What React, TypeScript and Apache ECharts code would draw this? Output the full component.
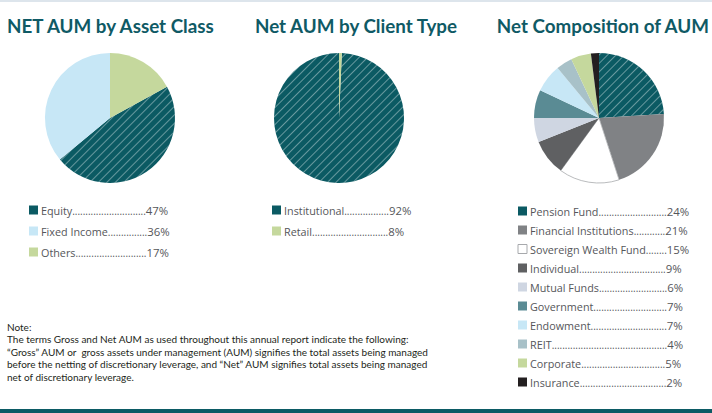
import React, { useEffect, useRef } from 'react';
import * as echarts from 'echarts';

const titles = ['NET AUM by Asset Class', 'Net AUM by Client Type', 'Net Composition of AUM'];

const assetNames = ['Equity', 'Fixed Income', 'Others'];
const assetValues = [47, 36, 17];
const assetLabels = ['47%', '36%', '17%'];

const clientNames = ['Institutional', 'Retail'];
const clientSliceValues = [99.3, 0.7];
const clientLabels = ['92%', '8%'];

const compNames = [
  'Pension Fund', 'Financial Institutions', 'Sovereign Wealth Fund', 'Individual', 'Mutual Funds',
  'Government', 'Endowment', 'REIT', 'Corporate', 'Insurance',
];
const compValues = [24, 21, 15, 9, 6, 7, 7, 4, 5, 2];
const compLabels = ['24%', '21%', '15%', '9%', '6%', '7%', '7%', '4%', '5%', '2%'];

const noteLines = [
  'Note:',
  'The terms Gross and Net AUM as used throughout this annual report indicate the following:',
  '\u201CGross\u201D AUM or  gross assets under management (AUM) signifies the total assets being managed',
  'before the netting of discretionary leverage, and \u201CNet\u201D AUM signifies total assets being managed',
  'net of discretionary leverage.',
];

const TEAL = '#0b5a63';
const hatch = {
  symbol: 'rect',
  symbolSize: 1,
  dashArrayX: [1, 0],
  dashArrayY: [1, 5],
  rotation: -Math.PI / 4,
  color: 'rgba(255,255,255,0.38)',
};

const assetColors = [TEAL, '#c7e7f6', '#c5d89d'];
const clientColors = [TEAL, '#c5d89d'];
const compColors = [TEAL, '#808285', '#ffffff', '#5f6062', '#cfd6e2', '#5a8b94', '#c7e7f6', '#a8c1c8', '#c5d89d', '#231f20'];

const LEGEND_FONT = '10.8px "Open Sans"';
const VALUE_FONT = '11.4px "Open Sans"';
const DOT_FONT = '10px "Open Sans"';
const TITLE_FONT = 'bold 18.8px Lato';
const NOTE_FONT = '10px Lato';

function measure(text: string, font: string) {
  const c = document.createElement('canvas').getContext('2d')!;
  c.font = font;
  return c.measureText(text).width;
}

function buildLegend(names: string[], labels: string[], colors: string[], iconX: number, textX: number, dotEnd: number, y0: number, step: number) {
  const els: any[] = [];
  const dotW = measure('.', DOT_FONT);
  names.forEach((n, i) => {
    const y = y0 + i * step;
    const white = colors[i].toLowerCase() === '#ffffff';
    els.push({
      type: 'rect',
      shape: { x: iconX, y: y - 4.5, width: 9, height: 9 },
      style: { fill: colors[i], stroke: white ? '#a7a9ac' : null, lineWidth: white ? 1 : 0 },
    });
    const nameW = measure(n, LEGEND_FONT);
    const count = Math.max(0, Math.round((dotEnd - textX - nameW) / dotW));
    els.push({
      type: 'text',
      x: textX,
      y,
      style: { text: n, font: LEGEND_FONT, fill: '#55565a', align: 'left', verticalAlign: 'middle' },
    });
    els.push({
      type: 'text',
      x: textX + nameW,
      y: y + 0.5,
      style: { text: '.'.repeat(count), font: DOT_FONT, fill: '#55565a', align: 'left', verticalAlign: 'middle' },
    });
    els.push({
      type: 'text',
      x: textX + nameW + count * dotW,
      y,
      style: { text: labels[i], font: VALUE_FONT, fill: '#55565a', align: 'left', verticalAlign: 'middle' },
    });
  });
  return els;
}

export default function App() {
  const ref = useRef<HTMLDivElement>(null);
  useEffect(() => {
    document.body.style.margin = '0';
    const chart = echarts.init(ref.current!, null, { renderer: 'svg' });
    const total = (a: number[]) => a.reduce((s, v) => s + v, 0);
    const mk = (names: string[], vals: number[], colors: string[]) =>
      names.map((n, i) => ({
        name: n,
        value: vals[i],
        itemStyle: {
          color: colors[i],
          decal: colors[i] === TEAL ? hatch : 'none',
          borderColor: colors[i] === '#ffffff' ? '#a7a9ac' : undefined,
          borderWidth: colors[i] === '#ffffff' ? 0.8 : 0,
        },
      }));
    const pieBase = {
      type: 'pie',
      radius: 65,
      label: { show: false },
      labelLine: { show: false },
      silent: true,
      clockwise: true,
    };
    const graphics: any[] = [
      { type: 'rect', shape: { x: 0, y: 0, width: 712, height: 2 }, style: { fill: '#dde5ec' } },
      { type: 'rect', shape: { x: 0, y: 409, width: 712, height: 4 }, style: { fill: '#0c5b65' } },
      { type: 'text', x: 7, y: 25, style: { text: titles[0], font: TITLE_FONT, fill: '#0f5a65', align: 'left', verticalAlign: 'middle' } },
      { type: 'text', x: 356, y: 25, style: { text: titles[1], font: TITLE_FONT, fill: '#0f5a65', align: 'center', verticalAlign: 'middle' } },
      { type: 'text', x: 709, y: 25, style: { text: titles[2], font: TITLE_FONT, fill: '#0f5a65', align: 'right', verticalAlign: 'middle' } },
      ...buildLegend(assetNames, assetLabels, assetColors, 29, 41, 146, 210, 21),
      ...buildLegend(clientNames, clientLabels, clientColors, 272, 284, 388, 210, 21),
      ...buildLegend(compNames, compLabels, compColors, 518, 530, 666, 211, 19),
      ...noteLines.map((t, i) => ({
        type: 'text', x: 7, y: 327 + i * 12.4,
        style: { text: t, font: NOTE_FONT, fill: '#231f20', align: 'left', verticalAlign: 'middle' },
      })),
    ];
    chart.setOption({
      animation: false,
      series: [
        {
          ...pieBase,
          center: [110, 118],
          startAngle: 90 - (360 * assetValues[2]) / total(assetValues),
          data: mk(assetNames, assetValues, assetColors),
        },
        {
          ...pieBase,
          center: [339, 118],
          startAngle: 90 - (360 * clientSliceValues[1]) / total(clientSliceValues),
          data: mk(clientNames, clientSliceValues, clientColors),
        },
        {
          ...pieBase,
          center: [599, 118],
          startAngle: 90,
          data: mk(compNames, compValues, compColors),
        },
      ],
      graphic: graphics,
    });
    return () => chart.dispose();
  }, []);
  return <div ref={ref} style={{ width: 712, height: 413 }} />;
}
